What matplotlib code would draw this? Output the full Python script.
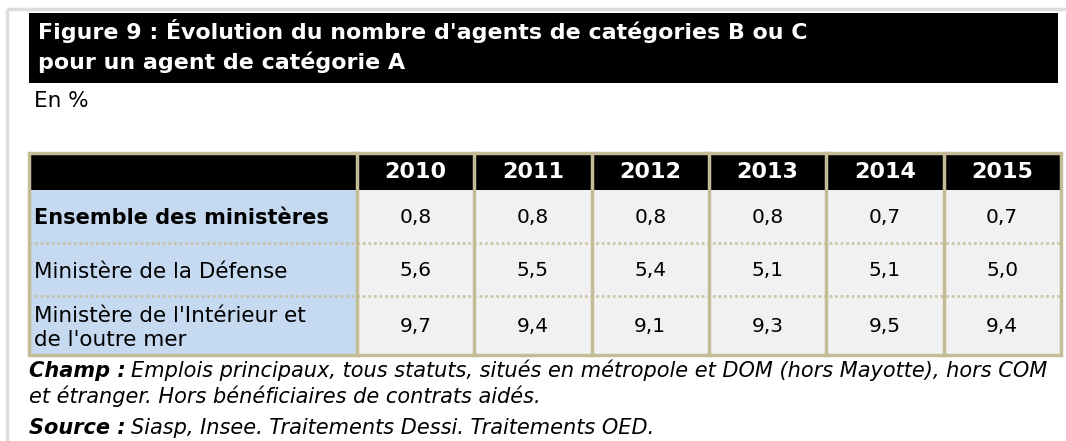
import matplotlib.pyplot as plt
import matplotlib.patches as patches

# data
years = ['2010', '2011', '2012', '2013', '2014', '2015']
rows = ['Ensemble des ministères', 'Ministère de la Défense',
        "Ministère de l'Intérieur et\nde l'outre mer"]
ensemble = [0.8, 0.8, 0.8, 0.8, 0.7, 0.7]
defense = [5.6, 5.5, 5.4, 5.1, 5.1, 5.0]
interieur = [9.7, 9.4, 9.1, 9.3, 9.5, 9.4]
values = [ensemble, defense, interieur]

title_lines = ["Figure 9 : Évolution du nombre d'agents de catégories B ou C",
               "pour un agent de catégorie A"]
notes = [('Champ :', 'Emplois principaux, tous statuts, situés en métropole et DOM (hors Mayotte), hors COM'),
         ('', 'et étranger. Hors bénéficiaires de contrats aidés.'),
         ('Source :', 'Siasp, Insee. Traitements Dessi. Traitements OED.')]

W, H = 1066, 441
fig = plt.figure(figsize=(W / 100, H / 100), dpi=100)
ax = fig.add_axes([0, 0, 1, 1])
ax.set_xlim(0, W)
ax.set_ylim(H, 0)
ax.axis('off')

tan = '#C4BC96'
blue = '#C5D9F1'
grey = '#F1F1F1'

# outer light frame
ax.plot([7, W], [9, 9], color='#DDDDDD', lw=2.5, solid_capstyle='butt')
ax.plot([7, 7], [9, H], color='#DDDDDD', lw=2.5, solid_capstyle='butt')

# title band
ax.add_patch(patches.Rectangle((29, 13), 1029, 70, color='black', lw=0))
for k, line in enumerate(title_lines):
    ax.text(38, 39 + 30 * k, line, color='white', fontsize=15.9,
            fontweight='bold', va='baseline', ha='left')
ax.text(34, 107, 'En %', fontsize=15.5, va='baseline', ha='left')

# table geometry
x0, first_w, col_w = 29, 328, 117.3
y0, head_h = 153, 37
row_h = [53, 53, 59]
x_right = x0 + first_w + col_w * len(years)

# header
ax.add_patch(patches.Rectangle((x0, y0), x_right - x0, head_h, color='black', lw=0))
for i, yr in enumerate(years):
    cx = x0 + first_w + col_w * (i + 0.5)
    ax.text(cx, y0 + head_h / 2 + 1, yr, color='white', fontsize=16,
            fontweight='bold', ha='center', va='center')

# body
y = y0 + head_h
for r, (name, vals) in enumerate(zip(rows, values)):
    h = row_h[r]
    ax.add_patch(patches.Rectangle((x0, y), first_w, h, color=blue, lw=0))
    ax.add_patch(patches.Rectangle((x0 + first_w, y), x_right - x0 - first_w, h,
                                   color=grey, lw=0))
    ax.text(x0 + 5, y + h / 2 + 2, name, fontsize=15 if r == 0 else 15.5,
            fontweight='bold' if r == 0 else 'normal', ha='left', va='center',
            linespacing=1.25)
    for i, v in enumerate(vals):
        cx = x0 + first_w + col_w * (i + 0.5)
        ax.text(cx, y + h / 2 + 1, f'{v:.1f}'.replace('.', ','), fontsize=14.5,
                ha='center', va='center')
    if r > 0:
        ax.plot([x0, x_right], [y, y], color=tan, lw=2, ls=(0, (1, 1)), alpha=0.8)
    y += h
y_bottom = y

# vertical separators and border
for i in range(len(years)):
    xv = x0 + first_w + col_w * i
    ax.plot([xv, xv], [y0, y_bottom], color=tan, lw=2.5)
ax.add_patch(patches.Rectangle((x0, y0), x_right - x0, y_bottom - y0,
                               fill=False, ec=tan, lw=2.5))

# footnotes
for (label, txt), yb in zip(notes, [377, 403, 434]):
    if label:
        t = ax.text(29, yb, label, fontsize=15, fontweight='bold', style='italic',
                    va='baseline', ha='left')
        ax.annotate(txt, xy=(1, 0), xycoords=t, xytext=(4, 0),
                    textcoords='offset points', fontsize=15, style='italic',
                    va='bottom', ha='left')
    else:
        ax.text(29, yb, txt, fontsize=15, style='italic', va='baseline', ha='left')

fig.savefig('out.png', dpi=100)
